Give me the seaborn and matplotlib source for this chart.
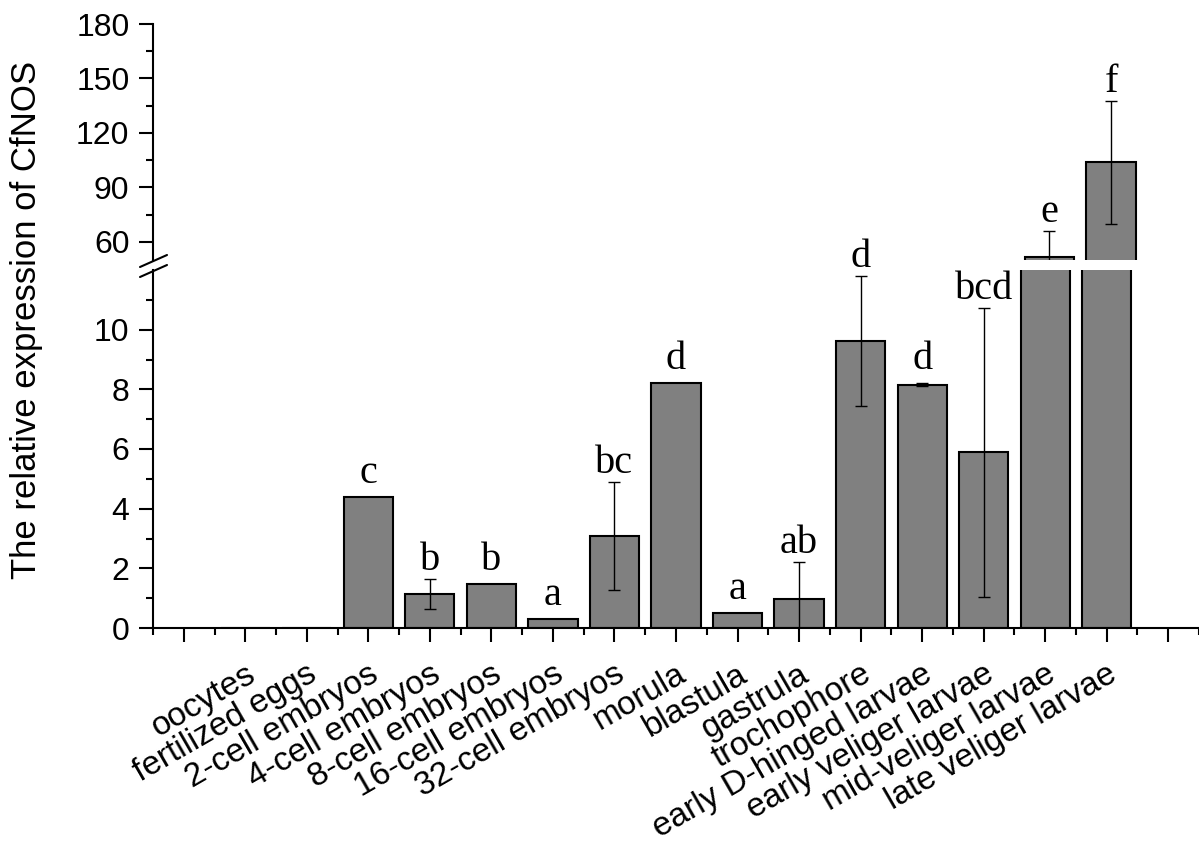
import matplotlib
matplotlib.use('Agg')
import matplotlib.pyplot as plt
from matplotlib.lines import Line2D
import seaborn as sns

stages = ['oocytes', 'fertilized eggs', '2-cell embryos', '4-cell embryos',
          '8-cell embryos', '16-cell embryos', '32-cell embryos', 'morula',
          'blastula', 'gastrula', 'trochophore', 'early D-hinged larvae',
          'early veliger larvae', 'mid-veliger larvae', 'late veliger larvae']
expression = [0, 0, 4.38, 1.15, 1.48, 0.31, 3.09, 8.22, 0.50, 0.97,
              9.63, 8.15, 5.89, 51.7, 103.8]
errors = [0, 0, 0, 0.5, 0, 0, 1.8, 0, 0, 1.24, 2.18, 0.05, 4.85, 14.3, 33.8]
letters = ['', '', 'c', 'b', 'b', 'a', 'bc', 'd', 'a', 'ab', 'd', 'd',
           'bcd', 'e', 'f']

sns.set_style('ticks')
plt.rcParams['font.family'] = ['Liberation Sans', 'DejaVu Sans']
for key in ('text.color', 'axes.labelcolor', 'xtick.color', 'ytick.color',
            'axes.edgecolor'):
    plt.rcParams[key] = 'black'

W, H = 1199, 848
fig = plt.figure(figsize=(W / 100, H / 100), dpi=100)
left = 153 / W
ax_top = fig.add_axes([left, 1 - 260 / H, 1 - left, (260 - 24) / H])
ax_bot = fig.add_axes([left, 1 - 628 / H, 1 - left, (628 - 270) / H])

for ax in (ax_top, ax_bot):
    sns.barplot(x=stages, y=expression, color='#808080', saturation=1,
                edgecolor='black', linewidth=1.5, width=0.8, errorbar=None,
                ax=ax)
    for i, (v, e) in enumerate(zip(expression, errors)):
        if e > 0:
            ax.errorbar(i, v, yerr=e, fmt='none', ecolor='black',
                        elinewidth=1.0, capsize=4.3, capthick=1.0)
    ax.set_xlim(-1.5, 15.42)
    ax.set(xlabel='', ylabel='')
    ax.spines['top'].set_visible(False)
    ax.spines['right'].set_visible(False)
    ax.spines['left'].set_linewidth(1.5)
    ax.spines['bottom'].set_linewidth(1.5)
    ax.tick_params(axis='both', which='major', direction='out', length=10,
                   width=1.5, labelsize=23, pad=7, colors='black')
    ax.tick_params(axis='both', which='minor', direction='out', length=5,
                   width=1.5, colors='black')

# upper part of the broken axis
ax_top.set_ylim(50, 180)
ax_top.set_yticks([60, 90, 120, 150, 180])
ax_top.set_yticks([75, 105, 135, 165], minor=True)
ax_top.spines['bottom'].set_visible(False)
ax_top.tick_params(axis='x', which='both', bottom=False, labelbottom=False)

# lower part
ax_bot.set_ylim(0, 12)
ax_bot.set_yticks([0, 2, 4, 6, 8, 10])
ax_bot.set_yticks([1, 3, 5, 7, 9, 11], minor=True)
ax_bot.set_xticks(range(-1, 16))
ax_bot.set_xticks([i + 0.5 for i in range(-2, 16)], minor=True)
ax_bot.set_xticklabels([''] + stages + [''], rotation=30, ha='right',
                       va='top', rotation_mode='anchor', fontsize=24)
ax_bot.tick_params(axis='x', which='major', pad=12)

# significance letters
for i, (v, e, t) in enumerate(zip(expression, errors, letters)):
    if not t:
        continue
    top = v + e
    ax = ax_top if top > 12 else ax_bot
    off = 6.5 if e > 0.1 else 10
    ax.annotate(t, (i, top), xytext=(0, off), textcoords='offset points',
                ha='center', va='baseline', fontsize=29,
                family=['Liberation Serif', 'DejaVu Serif'],
                annotation_clip=False)

# break marks on the y axis
for y0 in (267, 277):
    fig.add_artist(Line2D([140 / W, 167 / W], [1 - y0 / H, 1 - (y0 - 12) / H],
                          color='black', linewidth=1.5))

fig.text(27 / W, 1 - 320 / H, 'The relative expression of CfNOS',
         rotation=90, ha='center', va='center', fontsize=25)

fig.savefig('out.png', dpi=100)
